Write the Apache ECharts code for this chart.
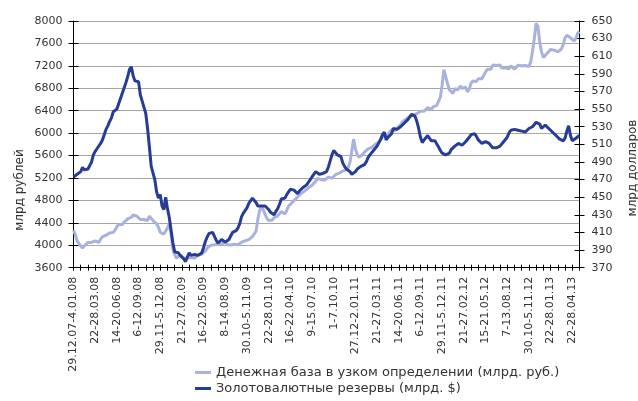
<!DOCTYPE html>
<html><head><meta charset="utf-8">
<script src="https://cdn.jsdelivr.net/npm/echarts@6/dist/echarts.min.js"></script>
<style>html,body{margin:0;padding:0;background:#fff}#c{width:638px;height:401px}</style>
</head><body><div id="c"></div>
<script>
const tickLabels = ['29.12.07-4.01.08','22-28.03.08','14-20.06.08','6-12.09.08','29.11-5.12.08','21-27.02.09','16-22.05.09','8-14.08.09','30.10-5.11.09','22-28.01.10','16-22.04.10','9-15.07.10','1-7.10.10','27.12-2.01.11','21-27.03.11','14-20.06.11','6-12.09.11','29.11-5.12.11','21-27.02.12','15-21.05.12','7-13.08.12','30.10-5.11.12','22-28.01.13','22-28.04.13'];

const moneyBaseName = 'Денежная база в узком определении (млрд. руб.)';
const reservesName = 'Золотовалютные резервы (млрд. $)';

const moneyBase = [
4273,4190,4080,4030,4000,3950,3990,4020,4050,4060,
4050,4070,4080,4070,4050,4110,4150,4170,4180,4200,
4220,4245,4230,4270,4330,4370,4350,4370,4410,4440,
4470,4460,4500,4540,4545,4520,4500,4460,4430,4460,
4450,4440,4520,4510,4440,4410,4380,4320,4230,4200,
4200,4220,4310,4390,4200,3930,3830,3770,3740,3830,
3830,3770,3740,3770,3740,3780,3800,3770,3800,3830,
3830,3840,3870,3900,3950,3980,4000,4015,4008,4030,
4020,4010,4025,4040,4050,4010,3980,4005,4015,4018,
4015,4008,4035,4055,4060,4080,4110,4100,4130,4155,
4160,4250,4460,4620,4690,4630,4555,4480,4440,4420,
4450,4490,4505,4525,4550,4600,4590,4560,4620,4700,
4735,4760,4800,4835,4860,4890,4925,4957,4970,5000,
5025,5020,5070,5100,5140,5190,5185,5170,5160,5160,
5195,5215,5180,5195,5225,5260,5290,5285,5315,5325,
5340,5345,5385,5480,5680,5890,5720,5620,5570,5600,
5620,5660,5690,5720,5735,5745,5770,5800,5820,5840,
5880,5930,5970,5995,5980,6015,6060,6030,6045,6090,
6120,6150,6200,6230,6250,6275,6295,6320,6330,6360,
6345,6375,6390,6365,6390,6420,6455,6445,6420,6470,
6500,6495,6520,6640,6860,7130,7150,6880,6770,6740,
6710,6790,6820,6780,6840,6800,6790,6820,6735,6790,
6890,6930,6910,6920,6970,7000,6970,7030,7090,7140,
7110,7140,7215,7240,7205,7170,7215,7160,7135,7160,
7180,7150,7200,7190,7140,7160,7210,7240,7200,7220,
7205,7190,7190,7270,7460,7690,7960,7900,7620,7450,
7350,7380,7420,7400,7490,7470,7480,7500,7450,7440,
7500,7580,7700,7745,7735,7700,7670,7640,7690,7780,7810
];

const reserves = [
473,475,476,477,479,484,481,480,482,486,
490,498,502,505,507,511,515,521,527,531,
536,540,547,548,550,556,562,568,574,580,
587,595,598,588,582,582,581,566,559,560,
545,528,507,485,483,470,456,449,453,440,
436,450,437,427,425,398,388,386,387,384,
385,380,377,376,387,384,382,385,384,384,
386,387,393,400,405,409,408,410,408,401,
398,399,402,401,399,397,402,406,410,411,
412,415,420,428,432,434,438,443,445,449,
451,444,440,441,440,441,440,438,436,433,
431,430,434,437,442,448,447,449,453,456,
459,460,458,458,454,457,459,461,463,464,
467,470,473,475,479,478,476,475,477,476,
479,484,491,498,503,502,498,499,496,489,
485,482,480,479,476,477,479,482,483,485,
486,487,490,495,498,500,503,505,508,512,
516,521,524,515,518,519,522,528,526,527,
528,530,532,534,536,538,541,544,543,542,
536,528,518,512,515,517,520,519,514,513,
514,512,507,503,500,498,498,497,500,504,
506,508,507,511,510,509,510,513,515,518,
521,523,522,519,515,513,511,512,513,512,
511,510,506,505,506,506,508,509,513,515,
518,523,526,528,527,528,526,527,525,524,
524,526,528,527,530,532,535,537,533,528,
530,532,531,528,526,524,522,520,522,516,
518,514,517,525,531,520,514,516,517,519,520
];

const categories = moneyBase.map((_, i) => (i % 12 === 0 ? tickLabels[i / 12] : 'w' + i));

const FONT = 'DejaVu Sans';
const TXT = '#333333';
const plain = v => String(v);
const chart = echarts.init(document.getElementById('c'), null, {renderer: 'canvas'});
chart.setOption({
  animation: false,
  backgroundColor: '#ffffff',
  grid: {left: 73.5, right: 58.5, top: 21, bottom: 133.3, containLabel: false},
  legend: {
    orient: 'vertical', left: 190, top: 361, icon: 'rect',
    itemWidth: 16, itemHeight: 3, itemGap: 3,
    textStyle: {fontFamily: FONT, fontSize: 13, color: TXT},
    data: [moneyBaseName, reservesName]
  },
  xAxis: [{
    type: 'category', data: categories, boundaryGap: false, position: 'bottom',
    axisLine: {show: true, lineStyle: {color: '#000', width: 1}},
    axisTick: {show: true, interval: 3, length: 3, lineStyle: {color: '#000'}},
    axisLabel: {interval: 11, rotate: 90, margin: 9, fontFamily: FONT, fontSize: 11, color: TXT},
    splitLine: {show: false}
  }, {
    type: 'category', data: categories, boundaryGap: false, position: 'bottom',
    axisLine: {show: false},
    axisTick: {show: true, inside: true, interval: 3, length: 3, lineStyle: {color: '#000'}},
    axisLabel: {show: false}, splitLine: {show: false}
  }],
  yAxis: [{
    type: 'value', position: 'left', min: 3600, max: 8000, interval: 400,
    axisLine: {show: true, lineStyle: {color: '#000'}},
    axisTick: {show: true, length: 5, lineStyle: {color: '#000'}},
    axisLabel: {margin: 11, fontFamily: FONT, fontSize: 11, color: TXT, formatter: plain},
    splitLine: {show: true, lineStyle: {color: '#a6a6a6', width: 1}}
  }, {
    type: 'value', position: 'right', min: 370, max: 650, interval: 20,
    axisLine: {show: true, lineStyle: {color: '#000'}},
    axisTick: {show: true, length: 5, lineStyle: {color: '#000'}},
    axisLabel: {margin: 12, fontFamily: FONT, fontSize: 11, color: TXT, formatter: plain},
    splitLine: {show: false}
  }, {
    type: 'value', position: 'left', min: 3600, max: 8000, interval: 400,
    axisLine: {show: false},
    axisTick: {show: true, inside: true, length: 5, lineStyle: {color: '#000'}},
    axisLabel: {show: false}, splitLine: {show: false}
  }, {
    type: 'value', position: 'right', min: 370, max: 650, interval: 20,
    axisLine: {show: false},
    axisTick: {show: true, inside: true, length: 5, lineStyle: {color: '#000'}},
    axisLabel: {show: false}, splitLine: {show: false}
  }],
  series: [{
    name: moneyBaseName, type: 'line', yAxisIndex: 0, data: moneyBase,
    showSymbol: false, symbol: 'none', color: '#a9b1dd',
    lineStyle: {width: 3, color: '#a9b1dd'}
  }, {
    name: reservesName, type: 'line', yAxisIndex: 1, data: reserves,
    showSymbol: false, symbol: 'none', color: '#263c96',
    lineStyle: {width: 3, color: '#263c96'}
  }],
  graphic: [{
    type: 'text', x: 20, y: 190, rotation: Math.PI / 2,
    style: {text: 'млрд рублей', fontFamily: FONT, fontSize: 12, fill: TXT, align: 'center', verticalAlign: 'middle'}
  }, {
    type: 'text', x: 633, y: 168, rotation: Math.PI / 2,
    style: {text: 'млрд долларов', fontFamily: FONT, fontSize: 12, fill: TXT, align: 'center', verticalAlign: 'middle'}
  }]
});
</script></body></html>
